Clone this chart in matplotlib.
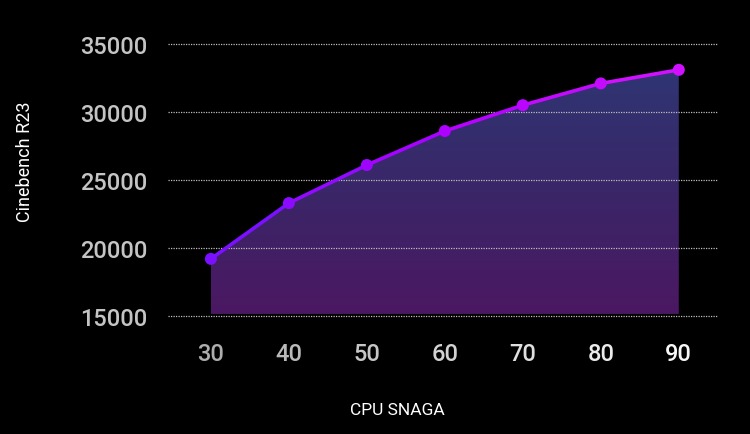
import numpy as np
import matplotlib
matplotlib.use("Agg")
import matplotlib.pyplot as plt
from matplotlib.collections import LineCollection
from matplotlib.colors import LinearSegmentedColormap
from matplotlib.patches import Polygon

# data
cpu_snaga = [30, 40, 50, 60, 70, 80, 90]
cinebench = [19200, 23300, 26100, 28600, 30500, 32100, 33100]
y_ticks = [15000, 20000, 25000, 30000, 35000]

plt.rcParams['font.family'] = ['Roboto', 'DejaVu Sans']

fig = plt.figure(figsize=(7.5, 4.35), dpi=100, facecolor='black')
ax = fig.add_axes([0.224, 0.2713, 0.732, 0.6253], facecolor='black')
ax.set_xlim(24.5, 94.9)
ax.set_ylim(15000, 35000)

# gradient fill under line
fill_cmap = LinearSegmentedColormap.from_list('fill', ['#4b1862', '#3a2668', '#2f3573'])
grad = np.linspace(0, 1, 256).reshape(-1, 1)
img = ax.imshow(grad, cmap=fill_cmap, origin='lower', aspect='auto',
                extent=[cpu_snaga[0], cpu_snaga[-1], 15150, max(cinebench)], zorder=1)
verts = [(cpu_snaga[0], 15150)] + list(zip(cpu_snaga, cinebench)) + [(cpu_snaga[-1], 15150)]
poly = Polygon(verts, closed=True, facecolor='none', edgecolor='none')
ax.add_patch(poly)
img.set_clip_path(poly)

# grid
for yv in y_ticks:
    ax.axhline(yv, color='#bdbdbd', lw=0.9, ls=(0, (1, 1)), zorder=2, clip_on=False)

# gradient line
line_cmap = LinearSegmentedColormap.from_list('line', ['#7a10ff', '#b000ff', '#d010ff'])
pts = np.column_stack([cpu_snaga, cinebench])
segs = np.stack([pts[:-1], pts[1:]], axis=1)
t = np.linspace(0, 1, len(segs))
lc = LineCollection(segs, colors=line_cmap(t), linewidths=2.6, zorder=3, capstyle='round')
ax.add_collection(lc)
ax.scatter(cpu_snaga, cinebench, s=75, c=line_cmap(np.linspace(0, 1, len(cpu_snaga))),
           zorder=4, clip_on=False, linewidths=0)

for s in ax.spines.values():
    s.set_visible(False)
ax.tick_params(length=0)
ax.set_yticks(y_ticks)
ax.set_yticklabels([str(v) for v in y_ticks], fontsize=17, color='#c4c4c4', fontweight='medium')
ax.tick_params(axis='y', pad=15)
ax.set_xticks(cpu_snaga)
ax.set_xticklabels([str(v) for v in cpu_snaga], fontsize=17, fontweight='medium')
ax.tick_params(axis='x', pad=19)
gray_levels = np.linspace(0.68, 0.97, len(cpu_snaga))
for lab, g in zip(ax.get_xticklabels(), gray_levels):
    lab.set_color((g, g, g))

fig.text(0.034, 0.628, 'Cinebench R23', rotation=90, color='white', fontsize=13,
         ha='center', va='center')
fig.text(0.53, 0.057, 'CPU SNAGA', color='white', fontsize=12.5, ha='center', va='center')

fig.savefig('out.png', dpi=100, facecolor='black')
